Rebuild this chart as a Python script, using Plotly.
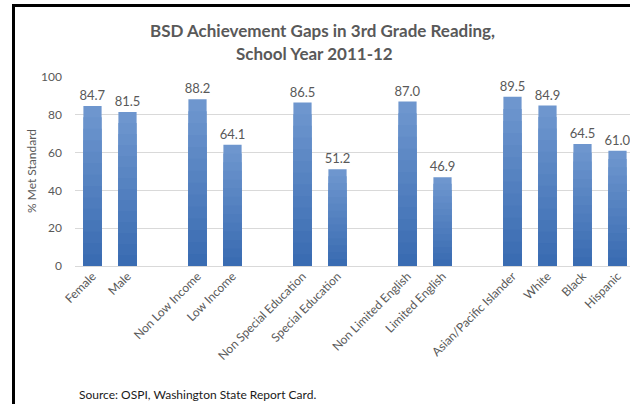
import plotly.graph_objects as go

# ---- data ----
group_gender = ["Female", "Male"]
values_gender = [84.7, 81.5]
group_income = ["Non Low Income", "Low Income"]
values_income = [88.2, 64.1]
group_sped = ["Non Special Education", "Special Education"]
values_sped = [86.5, 51.2]
group_ell = ["Non Limited English", "Limited English"]
values_ell = [87.0, 46.9]
group_race = ["Asian/Pacific Islander", "White", "Black", "Hispanic"]
values_race = [89.5, 84.9, 64.5, 61.0]

y_ticks = [0, 20, 40, 60, 80, 100]

groups = [
    (group_gender, values_gender),
    (group_income, values_income),
    (group_sped, values_sped),
    (group_ell, values_ell),
    (group_race, values_race),
]

# build category axis with blank spacer slots between groups
cats, vals = [], []
for gi, (names, v) in enumerate(groups):
    if gi > 0:
        cats.append(" " * gi)
        vals.append(None)
    cats.extend(names)
    vals.extend(v)

labels = ["" if v is None else f"{v:.1f}" for v in vals]

GRAY = "#595959"
FONT = "Lato"

top_rgb = (110, 150, 206)
bot_rgb = (58, 108, 178)
N = 14

fig = go.Figure()
for i in range(N):
    t = i / (N - 1)
    c = tuple(round(top_rgb[k] + (bot_rgb[k] - top_rgb[k]) * t) for k in range(3))
    frac = 1 - i / N
    ys = [None if v is None else v * frac for v in vals]
    fig.add_trace(go.Bar(
        x=cats, y=ys,
        marker=dict(color=f"rgb{c}", line=dict(width=0)),
        text=labels if i == 0 else None,
        textposition="outside" if i == 0 else "none",
        textfont=dict(family=FONT, size=13, color=GRAY),
        constraintext="none",
        cliponaxis=False,
        hoverinfo="skip" if i > 0 else None,
        showlegend=False,
    ))

L, T, B = 75, 77, 138
W, H = 630, 404
pw = W - L
ph = H - T - B

def px_x(px):
    return (px - L) / pw

def px_y(py):
    return (H - B - py) / ph

fig.update_layout(
    width=W, height=H,
    margin=dict(l=L, r=0, t=T, b=B, autoexpand=False),
    barmode="overlay",
    bargap=0.48,
    plot_bgcolor="white",
    paper_bgcolor="white",
    font=dict(family=FONT, color=GRAY, size=12),
    xaxis=dict(
        type="category", automargin=False,
        categoryorder="array", categoryarray=cats,
        range=[-0.5, -0.5 + pw / 35.0],
        tickangle=-45,
        tickfont=dict(family=FONT, size=12, color=GRAY),
        showgrid=False, showline=False, ticks="", zeroline=False,
    ),
    yaxis=dict(
        automargin=False,
        range=[0, 100], tickvals=y_ticks,
        showgrid=True, gridcolor="#d9d9d9", gridwidth=1,
        zeroline=True, zerolinecolor="#d9d9d9", zerolinewidth=1,
        ticks="", ticklabelstandoff=12,
        tickfont=dict(family=FONT, size=12, color=GRAY),
    ),
    annotations=[
        dict(text="<b>BSD Achievement Gaps in 3rd Grade Reading,</b>",
             xref="paper", yref="paper", x=px_x(322), y=px_y(31),
             showarrow=False, font=dict(family=FONT, size=17, color=GRAY),
             xanchor="center", yanchor="middle"),
        dict(text="<b>School Year 2011-12</b>",
             xref="paper", yref="paper", x=px_x(314), y=px_y(53),
             showarrow=False, font=dict(family=FONT, size=17, color=GRAY),
             xanchor="center", yanchor="middle"),
        dict(text="% Met Standard", textangle=-90,
             xref="paper", yref="paper", x=px_x(31), y=px_y(171),
             showarrow=False, font=dict(family=FONT, size=12, color=GRAY),
             xanchor="center", yanchor="middle"),
        dict(text="Source: OSPI, Washington State Report Card.",
             xref="paper", yref="paper", x=px_x(77), y=px_y(394),
             showarrow=False, font=dict(family=FONT, size=12, color="#1a1a1a"),
             xanchor="left", yanchor="middle"),
    ],
    shapes=[
        dict(type="line", xref="paper", yref="paper",
             x0=px_x(13.5), x1=px_x(13.5), y0=px_y(4), y1=px_y(406),
             line=dict(color="black", width=3)),
        dict(type="line", xref="paper", yref="paper",
             x0=px_x(12), x1=px_x(632), y0=px_y(5.5), y1=px_y(5.5),
             line=dict(color="black", width=3)),
    ],
)

fig.write_html(
    "out.html",
    config={"displayModeBar": False},
    post_script="document.body.style.margin='0px';document.body.style.overflow='hidden';",
)
